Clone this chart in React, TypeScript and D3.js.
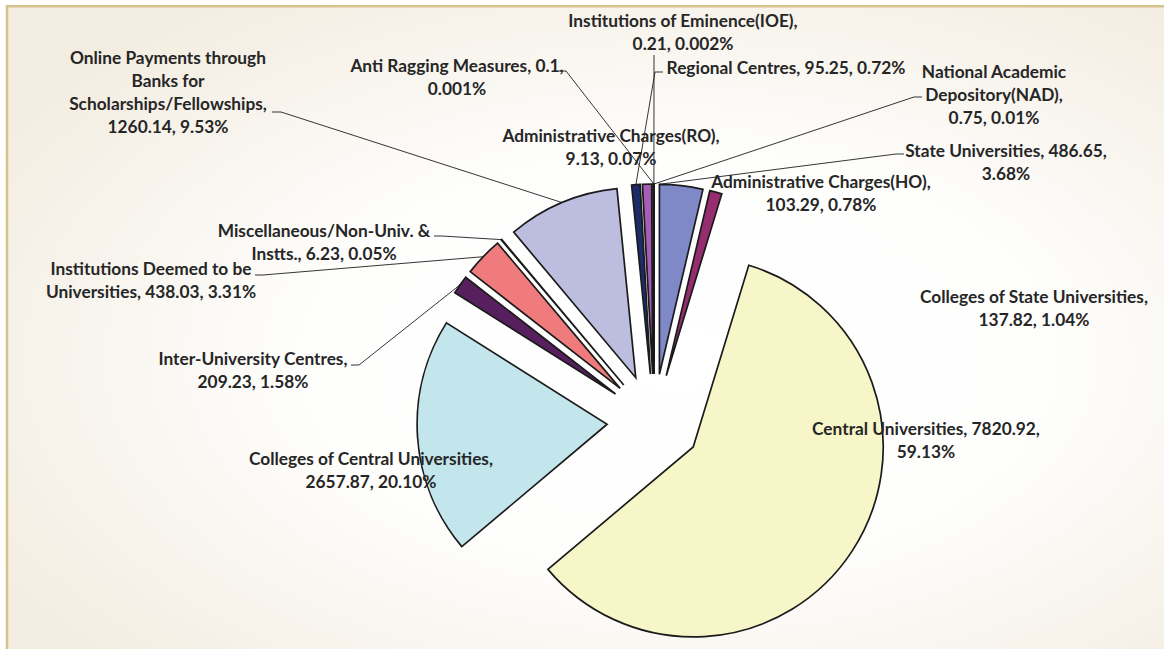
import * as d3 from "d3";

// categories in the order the pie is drawn (clockwise from 12 o'clock)
const categories = [
  "State Universities",
  "Colleges of State Universities",
  "Central Universities",
  "Colleges of Central Universities",
  "Inter-University Centres",
  "Institutions Deemed to be Universities",
  "Miscellaneous/Non-Univ. & Instts.",
  "Online Payments through Banks for Scholarships/Fellowships",
  "Regional Centres",
  "Administrative Charges(HO)",
  "Administrative Charges(RO)",
  "Anti Ragging Measures",
  "Institutions of Eminence(IOE)",
  "National Academic Depository(NAD)",
];
const values = [486.65, 137.82, 7820.92, 2657.87, 209.23, 438.03, 6.23, 1260.14, 95.25, 103.29, 9.13, 0.1, 0.21, 0.75];
const percents = ["3.68%", "1.04%", "59.13%", "20.10%", "1.58%", "3.31%", "0.05%", "9.53%", "0.72%", "0.78%", "0.07%", "0.001%", "0.002%", "0.01%"];
const colors = [
  "#8089c8", "#962d6e", "#f7f6c8", "#c3e6ed", "#571f5e", "#f07b7d", "#3f74c0",
  "#bdbde0", "#1d2b6b", "#a65cb9", "#e8e84a", "#5cc8d8", "#7a2a80", "#7a1e2a",
];

// how many words go on each line of a data label
const wrap = [[3, 1], [4, 2], [3, 1], [4, 2], [2, 2], [4, 3], [2, 3], [3, 2, 1, 2], [4], [2, 2], [2, 2], [4, 1], [3, 2], [2, 1, 2]];
// label centre x, first baseline y
const labelPos: [number, number][] = [
  [1006, 157], [1034, 303], [926, 435], [371, 465], [253, 365], [151, 275], [324, 237],
  [168, 64], [786, 74], [821, 188], [611, 142], [457, 72], [683, 27], [994, 78],
];
// leader: anchor point, elbow length (signed), attach fraction along the slice angle
const leaders: ({ x: number; y: number; elbow: number; frac: number } | null)[] = [
  { x: 904, y: 154, elbow: -8, frac: 0 },
  null,
  null,
  null,
  { x: 351, y: 365, elbow: 8, frac: 0.5 },
  { x: 255, y: 275, elbow: 8, frac: 0.5 },
  { x: 434, y: 236, elbow: 8, frac: 0.5 },
  { x: 272, y: 112, elbow: 9, frac: 0.5 },
  { x: 663, y: 72, elbow: -8, frac: 0.5 },
  null,
  null,
  { x: 558, y: 71, elbow: 8, frac: 0.5 },
  { x: 654, y: 55, elbow: 0, frac: 0.5 },
  { x: 922, y: 97, elbow: -8, frac: 0.5 },
];

const W = 1164;
const H = 649;
const cx = 654;
const cy = 421;
const radius = 190;
const explode = 47;
const lineH = 23;

export default function App() {
  const pie = d3.pie<number>().sort(null).value((d) => d)(values);
  const arc = d3.arc<d3.PieArcDatum<number>>().innerRadius(0).outerRadius(radius);

  const tipOf = (p: d3.PieArcDatum<number>) => {
    const mid = (p.startAngle + p.endAngle) / 2;
    return [cx + explode * Math.sin(mid), cy - explode * Math.cos(mid)];
  };

  const labelText = categories.map((c, i) => {
    const words = `${c}, ${values[i]}, ${percents[i]}`.split(" ");
    const lines: string[] = [];
    let k = 0;
    wrap[i].forEach((n) => {
      lines.push(words.slice(k, k + n).join(" "));
      k += n;
    });
    return lines;
  });

  return (
    <svg width={W} height={H} style={{ position: "absolute", left: 0, top: 0 }}>
      <defs>
        <radialGradient id="bg" cx="58%" cy="55%" r="70%">
          <stop offset="0%" stopColor="#ffffff" />
          <stop offset="45%" stopColor="#fefefd" />
          <stop offset="100%" stopColor="#f3ece0" />
        </radialGradient>
      </defs>
      <rect width={W} height={H} fill="#ffffff" />
      <rect x={7} y={6} width={W - 7} height={H - 6} fill="url(#bg)" />
      <line x1={5.8} y1={6.2} x2={W} y2={6.2} stroke="#d8c38f" strokeWidth={2.5} />
      <line x1={7} y1={5} x2={7} y2={H} stroke="#d8c38f" strokeWidth={2.5} />

      <g fill="none" stroke="#1e1e1e" strokeWidth={0.9}>
        {pie.map((p, i) => {
          const l = leaders[i];
          if (!l) return null;
          const [tx, ty] = tipOf(p);
          const a = p.startAngle + (p.endAngle - p.startAngle) * l.frac;
          const ex = tx + radius * Math.sin(a);
          const ey = ty - radius * Math.cos(a);
          const pts: [number, number][] = [[l.x, l.y], [l.x + l.elbow, l.y], [ex, ey]];
          return <path key={i} d={d3.line()(pts) ?? ""} />;
        })}
      </g>

      <g stroke="#1b1b1b" strokeWidth={1.7} strokeLinejoin="miter">
        {pie.map((p, i) => {
          const [tx, ty] = tipOf(p);
          return <path key={i} transform={`translate(${tx},${ty})`} d={arc(p) ?? ""} fill={colors[i]} />;
        })}
      </g>

      <g fontFamily="Lato, 'Open Sans', sans-serif" fontWeight={700} fontSize={17.3} fill="#262626" textAnchor="middle">
        {labelText.map((lines, i) => (
          <text key={i} x={labelPos[i][0]} y={labelPos[i][1]}>
            {lines.map((t, j) => (
              <tspan key={j} x={labelPos[i][0]} dy={j === 0 ? 0 : lineH}>
                {t}
              </tspan>
            ))}
          </text>
        ))}
      </g>
    </svg>
  );
}
